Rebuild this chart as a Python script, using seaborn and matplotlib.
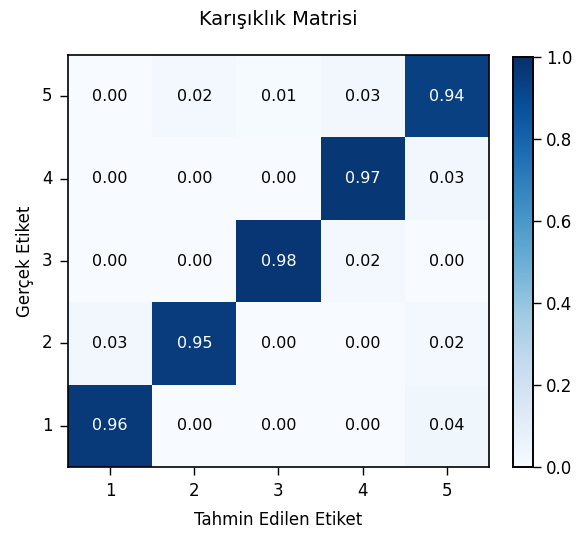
import matplotlib
matplotlib.use("Agg")
import matplotlib.pyplot as plt
import seaborn as sns
import numpy as np
import pandas as pd

true_labels = ["5", "4", "3", "2", "1"]
pred_labels = ["1", "2", "3", "4", "5"]
row_5 = [0.00, 0.02, 0.01, 0.03, 0.94]
row_4 = [0.00, 0.00, 0.00, 0.97, 0.03]
row_3 = [0.00, 0.00, 0.98, 0.02, 0.00]
row_2 = [0.03, 0.95, 0.00, 0.00, 0.02]
row_1 = [0.96, 0.00, 0.00, 0.00, 0.04]

df = pd.DataFrame([row_5, row_4, row_3, row_2, row_1], index=true_labels, columns=pred_labels)

sns.set_style("white")
plt.rcParams['font.family'] = ['DejaVu Sans']
plt.rcParams['text.color'] = 'black'
plt.rcParams['axes.labelcolor'] = 'black'
plt.rcParams['xtick.color'] = 'black'
plt.rcParams['ytick.color'] = 'black'

fig = plt.figure(figsize=(5.76, 5.35), dpi=100)
ax = fig.add_axes([0.118, 0.127, 0.731, 0.77])
cax = fig.add_axes([0.891, 0.127, 0.035, 0.766])

sns.heatmap(df, ax=ax, cbar_ax=cax, cmap="Blues", vmin=0, vmax=1,
            annot=True, fmt=".2f", annot_kws={"size": 11.5}, square=False)

for t in ax.texts:
    t.set_color("white" if float(t.get_text()) > 0.5 else "black")

for s in ax.spines.values():
    s.set_visible(True)
    s.set_color("black")
    s.set_linewidth(1.2)
cax.set_frame_on(True)
for s in cax.spines.values():
    s.set_visible(True)
    s.set_color("black")
    s.set_linewidth(1.2)

ax.tick_params(axis="both", length=6, width=1, pad=5, labelsize=12, left=True, bottom=True)
ax.set_yticklabels(true_labels, rotation=0)
ax.set_xticklabels(pred_labels, rotation=0)
cax.tick_params(length=6, width=1, pad=3, labelsize=12, right=True)
cax.set_yticks([0.0, 0.2, 0.4, 0.6, 0.8, 1.0])

ax.set_xlabel("Tahmin Edilen Etiket", fontsize=12, labelpad=8)
ax.set_ylabel("Gerçek Etiket", fontsize=12, labelpad=6)
ax.set_title("Karışıklık Matrisi", fontsize=14, pad=22)

fig.savefig("out.png", dpi=100)
